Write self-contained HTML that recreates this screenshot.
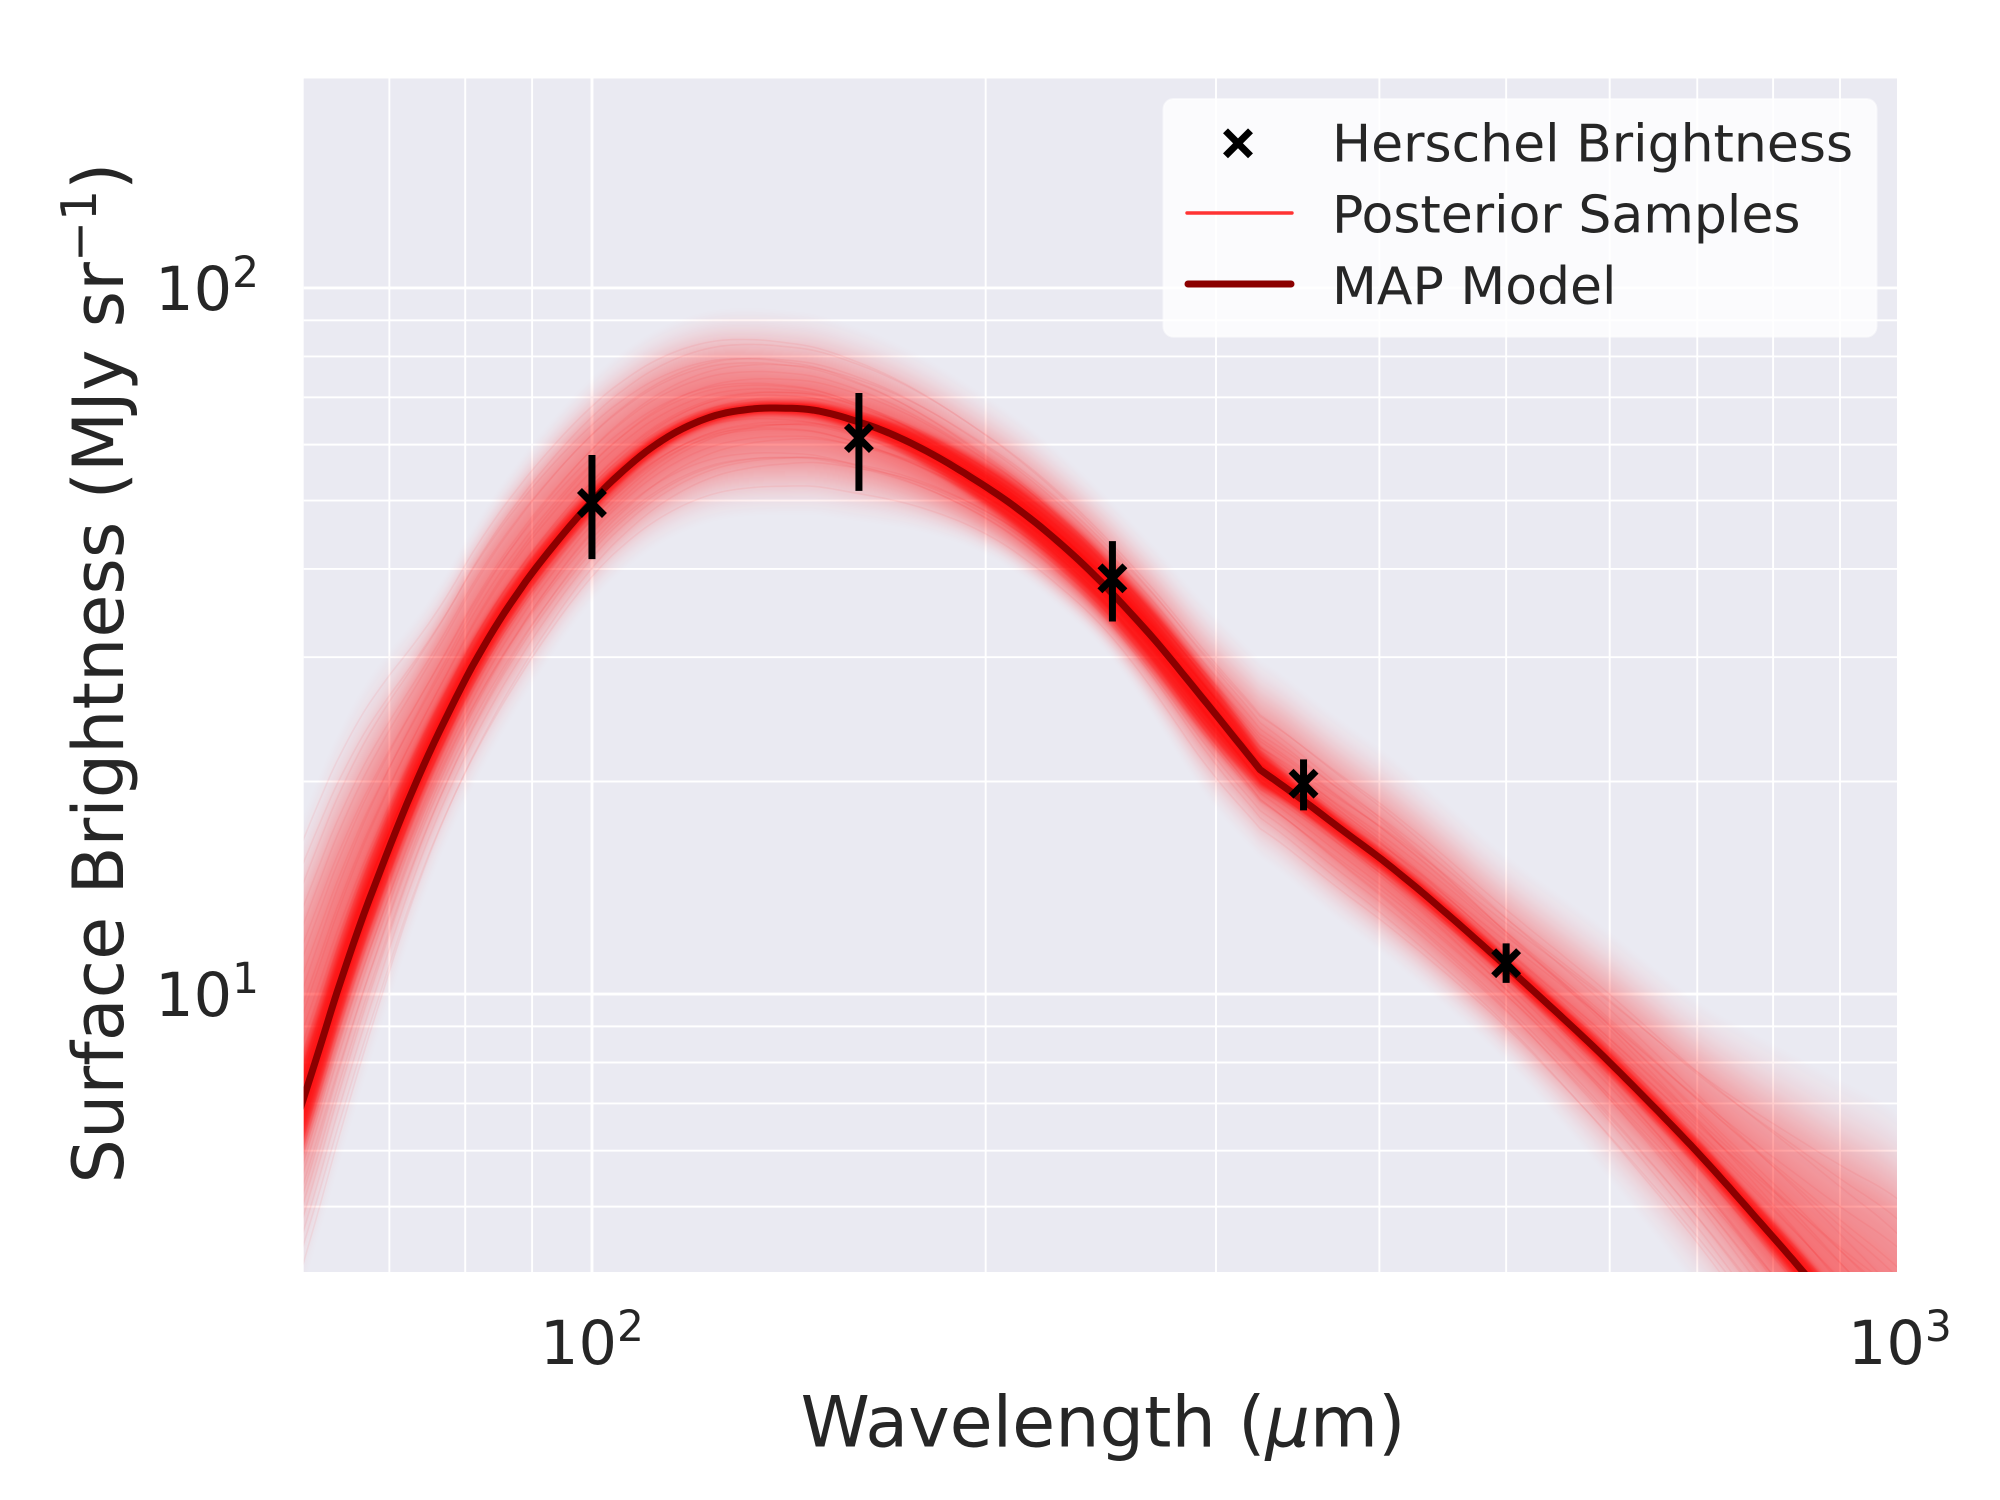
<!DOCTYPE html>
<html lang="en">
<head>
<meta charset="utf-8">
<title>Herschel Brightness Spectrum</title>
<style>
html,body{margin:0;padding:0;background:#fff;width:2000px;height:1500px;overflow:hidden;}
svg{display:block;}
text{font-family:"DejaVu Sans","Liberation Sans",sans-serif;fill:#262626;}
</style>
</head>
<body>
<svg id="chart" xmlns="http://www.w3.org/2000/svg" width="2000" height="1500" viewBox="0 0 2000 1500">
  <defs>
    <clipPath id="plot-clip"><rect x="303.7" y="78.5" width="1593.3" height="1193.5"/></clipPath>
    <filter id="soften" x="-5%" y="-5%" width="110%" height="110%"><feGaussianBlur stdDeviation="2.4"/></filter>
  </defs>
  <rect x="303.7" y="78.5" width="1593.3" height="1193.5" fill="#eaeaf2"/>
  <g id="grid"></g>
  <g clip-path="url(#plot-clip)">
    <g id="band" filter="url(#soften)"></g>
    <g id="sample-lines"></g>
    <path id="map-line" fill="none" stroke="#8b0000" stroke-width="7" stroke-linejoin="round"/>
    <g id="points"></g>
  </g>
  <g id="x-ticks"></g>
  <g id="y-ticks"></g>
  <text x="1103" y="1446.7" font-size="70" text-anchor="middle">Wavelength (<tspan font-style="italic">μ</tspan>m)</text>
  <text transform="translate(122.8,673) rotate(-90)" font-size="70" text-anchor="middle">Surface Brightness (MJy sr<tspan font-size="49" dy="-27">−1</tspan><tspan dy="27">)</tspan></text>
  <g>
    <rect x="1163.5" y="99" width="713" height="237.7" rx="10" ry="10" fill="#ffffff" fill-opacity="0.8" stroke="#ffffff" stroke-opacity="0.5" stroke-width="2"/>
    <g>
      <path d="M1225.5 130.8L1250.5 155.8M1250.5 130.8L1225.5 155.8" stroke="#000" stroke-width="7" fill="none"/>
      <text x="1332" y="161.5" font-size="52">Herschel Brightness</text>
    </g>
    <g>
      <line x1="1187" y1="213" x2="1292" y2="213" stroke="#ff3333" stroke-width="3.4" stroke-linecap="round"/>
      <text x="1332" y="232.5" font-size="52">Posterior Samples</text>
    </g>
    <g>
      <line x1="1188" y1="284" x2="1291" y2="284" stroke="#8b0000" stroke-width="7" stroke-linecap="round"/>
      <text x="1332" y="304" font-size="52">MAP Model</text>
    </g>
  </g>
</svg>
<script>
// ---- Axis limits and ticks ----
const xDomain = [60.2, 995];
const yDomain = [4.04, 198];
const xMajorTicks = [100, 1000];
const xMinorTicks = [70, 80, 90, 200, 300, 400, 500, 600, 700, 800, 900];
const yMajorTicks = [10, 100];
const yMinorTicks = [5, 6, 7, 8, 9, 20, 30, 40, 50, 60, 70, 80, 90];
const xTickBases = ['10', '10'];
const xTickExponents = ['2', '3'];
const yTickBases = ['10', '10'];
const yTickExponents = ['1', '2'];

// ---- Herschel measurements ----
const obsWavelength = [100, 160, 250, 350, 500];
const obsBrightness = [49.6, 61.3, 38.8, 19.86, 11.06];
const obsErrorLow = [41.3, 51.6, 33.7, 18.2, 10.37];
const obsErrorHigh = [58.0, 71.0, 43.8, 21.5, 11.8];

// ---- MAP model curve ----
const mapWavelength = [60.2, 61.99, 63.64, 65.34, 67.07, 68.89, 70.74, 72.63, 74.56, 76.56, 78.61, 80.71, 82.87, 85.08, 87.37, 89.86, 94.74, 100, 104.5, 110.8, 117.5, 124.6, 132.1, 138.5, 148.6, 162.3, 172.1, 182.4, 193.5, 208.8, 224, 243.2, 267.2, 283.3, 300.5, 324.3, 349.9, 376.6, 402.7, 439.7, 500, 550, 600.4, 699.5, 800.5, 841.7, 900.3, 995];
const mapBrightness = [7.13, 8.45, 9.88, 11.44, 13.12, 14.95, 16.95, 19.09, 21.33, 23.68, 26.16, 28.75, 31.35, 33.95, 36.54, 39.33, 44.5, 49.86, 54.1, 59.24, 63.3, 66.06, 67.35, 67.61, 67.02, 64.03, 61.3, 58.05, 54.4, 49.56, 44.73, 38.9, 32.27, 28.34, 24.77, 20.78, 18.79, 16.95, 15.45, 13.51, 10.95, 9.32, 7.99, 5.98, 4.52, 4.06, 3.5, 2.81];
const mapKinkWavelength = 324.3;

// ---- Posterior spread around the MAP curve, in dex, read at these wavelengths ----
const spreadWavelength = [60.2, 68, 75, 87, 100, 120, 138, 160, 200, 250, 300, 325, 350, 400, 500, 700, 800, 900, 1000];
const spreadOuterUp = [0.405, 0.307, 0.2, 0.18, 0.173, 0.15, 0.136, 0.13, 0.125, 0.125, 0.133, 0.158, 0.15, 0.153, 0.152, 0.207, 0.27, 0.33, 0.39];
const spreadMiddleUp = [0.25, 0.17, 0.135, 0.12, 0.105, 0.08, 0.06, 0.055, 0.055, 0.06, 0.057, 0.08, 0.07, 0.068, 0.065, 0.108, 0.15, 0.2, 0.25];
const spreadCoreUp = [0.07, 0.065, 0.05, 0.03, 0.02, 0.012, 0.01, 0.015, 0.035, 0.045, 0.045, 0.03, 0.018, 0.015, 0.018, 0.02, 0.025, 0.03, 0.03];
const spreadCoreDown = [0.07, 0.05, 0.04, 0.025, 0.02, 0.012, 0.01, 0.015, 0.03, 0.045, 0.05, 0.025, 0.02, 0.018, 0.018, 0.02, 0.025, 0.03, 0.03];
const spreadMiddleDown = [0.085, 0.084, 0.078, 0.075, 0.072, 0.075, 0.078, 0.07, 0.055, 0.055, 0.065, 0.045, 0.06, 0.069, 0.075, 0.067, 0.08, 0.09, 0.1];
const spreadOuterDown = [0.26, 0.225, 0.173, 0.16, 0.135, 0.145, 0.15, 0.14, 0.09, 0.085, 0.137, 0.116, 0.127, 0.13, 0.13, 0.19, 0.22, 0.24, 0.27];

// Individual posterior draws: signed fraction of the outer spread at the short and long wavelength ends
const sampleFractionShort = [-0.92, -0.81, -0.74, -0.66, -0.58, -0.53, -0.47, -0.41, -0.36, -0.3, -0.27, -0.22, -0.18, -0.14, -0.11, -0.07, -0.04, 0.03, 0.06, 0.1, 0.13, 0.17, 0.21, 0.26, 0.31, 0.35, 0.4, 0.46, 0.52, 0.57, 0.63, 0.7, 0.78, 0.86, 0.94];
const sampleFractionLong = [0.35, -0.6, 0.12, 0.52, -0.22, 0.7, -0.48, 0.05, 0.31, -0.73, 0.18, 0.44, -0.1, -0.36, 0.62, 0.24, -0.55, 0.08, 0.4, -0.28, -0.66, 0.15, -0.05, -0.42, 0.28, -0.17, 0.56, -0.31, 0.02, -0.52, 0.21, -0.12, 0.33, -0.38, 0.1];

// ---- Axes ----
const SVGNS = 'http://www.w3.org/2000/svg';
const plot = { left: 303.7, top: 78.5, width: 1593.3, height: 1193.5 };
function X(v) {
  const a = Math.log10(xDomain[0]), b = Math.log10(xDomain[1]);
  return plot.left + (Math.log10(v) - a) / (b - a) * plot.width;
}
function Y(v) {
  const a = Math.log10(yDomain[0]), b = Math.log10(yDomain[1]);
  return plot.top + (b - Math.log10(v)) / (b - a) * plot.height;
}
function make(tag, parent) {
  const el = document.createElementNS(SVGNS, tag);
  parent.appendChild(el);
  return el;
}

// ---- Grid ----
const gridGroup = document.getElementById('grid');
function drawVertical(v, width) {
  const px = X(v);
  if (px > plot.left + plot.width) return;
  const el = make('line', gridGroup);
  
  
  el.setAttribute('x1', px); el.setAttribute('x2', px);
  el.setAttribute('y1', plot.top); el.setAttribute('y2', plot.top + plot.height);
  el.setAttribute('stroke', '#fff'); el.setAttribute('stroke-width', width);
}
function drawHorizontal(v, width) {
  const py = Y(v);
  const el = make('line', gridGroup);
  
  
  el.setAttribute('x1', plot.left); el.setAttribute('x2', plot.left + plot.width);
  el.setAttribute('y1', py); el.setAttribute('y2', py);
  el.setAttribute('stroke', '#fff'); el.setAttribute('stroke-width', width);
}
xMinorTicks.forEach(v => drawVertical(v, 1.9));
yMinorTicks.forEach(v => drawHorizontal(v, 1.9));
xMajorTicks.forEach(v => drawVertical(v, 2.9));
yMajorTicks.forEach(v => drawHorizontal(v, 2.9));

// ---- Tick labels ----
const xTickGroup = document.getElementById('x-ticks');
xMajorTicks.forEach((v, i) => {
  const t = make('text', xTickGroup);
  
  
  t.setAttribute('x', X(v)); t.setAttribute('y', 1364);
  t.setAttribute('font-size', '60.5'); t.setAttribute('text-anchor', 'middle');
  t.textContent = xTickBases[i];
  const s = make('tspan', t);
  s.setAttribute('font-size', '42.3'); s.setAttribute('dy', '-23');
  s.textContent = xTickExponents[i];
});
const yTickGroup = document.getElementById('y-ticks');
yMajorTicks.forEach((v, i) => {
  const t = make('text', yTickGroup);
  
  
  t.setAttribute('x', 259); t.setAttribute('y', Y(v) + 22);
  t.setAttribute('font-size', '60.5'); t.setAttribute('text-anchor', 'end');
  t.textContent = yTickBases[i];
  const s = make('tspan', t);
  s.setAttribute('font-size', '42.3'); s.setAttribute('dy', '-23');
  s.textContent = yTickExponents[i];
});

// ---- Curve evaluation (read points joined by a smooth Hermite spline, with a sharp kink) ----
const mapLogX = mapWavelength.map(Math.log10);
const mapLogY = mapBrightness.map(Math.log10);
const kinkIndex = mapWavelength.indexOf(mapKinkWavelength);
function slopeBetween(i, j) { return (mapLogY[j] - mapLogY[i]) / (mapLogX[j] - mapLogX[i]); }
function tangentAt(i, side) {
  if (i === 0) return slopeBetween(0, 1);
  if (i === mapLogX.length - 1) return slopeBetween(i - 1, i);
  if (i === kinkIndex) return side < 0 ? slopeBetween(i - 1, i) : slopeBetween(i, i + 1);
  return slopeBetween(i - 1, i + 1);
}
function mapLogAt(lx) {
  let i = 0;
  while (i < mapLogX.length - 2 && lx > mapLogX[i + 1]) i++;
  const h = mapLogX[i + 1] - mapLogX[i], t = (lx - mapLogX[i]) / h;
  const m0 = tangentAt(i, 1) * h, m1 = tangentAt(i + 1, -1) * h;
  const t2 = t * t, t3 = t2 * t;
  return (2 * t3 - 3 * t2 + 1) * mapLogY[i] + (t3 - 2 * t2 + t) * m0 + (-2 * t3 + 3 * t2) * mapLogY[i + 1] + (t3 - t2) * m1;
}
const spreadLogX = spreadWavelength.map(Math.log10);
function spreadRaw(arr, lx) {
  let i = 0;
  while (i < spreadLogX.length - 2 && lx > spreadLogX[i + 1]) i++;
  const t = Math.min(1, Math.max(0, (lx - spreadLogX[i]) / (spreadLogX[i + 1] - spreadLogX[i])));
  return arr[i] + (arr[i + 1] - arr[i]) * t;
}
// Moving average over a small window so the envelope has no corners
function spreadAt(arr, lx) {
  let s = 0;
  for (let k = -3; k <= 3; k++) s += spreadRaw(arr, lx + k * 0.007);
  return s / 7;
}

// Fine evaluation grid along the axis, running slightly past both plot edges
const fineLogX = [];
const logA = Math.log10(xDomain[0]) - 0.012, logB = Math.log10(xDomain[1]) + 0.012;
for (let i = 0; i <= 300; i++) fineLogX.push(logA + (logB - logA) * i / 300);
fineLogX.push(mapLogX[kinkIndex]);
fineLogX.sort((a, b) => a - b);
const fineMap = fineLogX.map(mapLogAt);
function precompute(arr) { return fineLogX.map(lx => spreadAt(arr, lx)); }
const fineOuterUp = precompute(spreadOuterUp);
const fineMiddleUp = precompute(spreadMiddleUp);
const fineCoreUp = precompute(spreadCoreUp);
const fineCoreDown = precompute(spreadCoreDown);
const fineMiddleDown = precompute(spreadMiddleDown);
const fineOuterDown = precompute(spreadOuterDown);

// Vertical positions are held just outside the plot so off-plot geometry stays inside the page
const yLimitTop = plot.top - 30;
const yLimitBottom = plot.top + plot.height + 30;
function pointAt(i, offset) {
  const py = Math.min(yLimitBottom, Math.max(yLimitTop, Y(Math.pow(10, fineMap[i] + offset))));
  return X(Math.pow(10, fineLogX[i])).toFixed(1) + ' ' + py.toFixed(1);
}
function toPath(offsetFn) {
  return fineLogX.map((lx, i) => (i ? 'L' : 'M') + pointAt(i, offsetFn(i))).join('');
}
function bandPath(upFn, downFn) {
  let d = toPath(upFn);
  for (let i = fineLogX.length - 1; i >= 0; i--) d += 'L' + pointAt(i, -downFn(i));
  return d + 'Z';
}

// ---- Posterior band: stacked translucent layers between the read spread levels ----
const bandGroup = document.getElementById('band');
function addLayer(innerUp, outerUp, innerDown, outerDown, t, alpha) {
  const p = make('path', bandGroup);
  
  
  p.setAttribute('fill', '#ff0000');
  p.setAttribute('fill-opacity', alpha);
  p.setAttribute('d', bandPath(
    i => { const a = innerUp ? innerUp[i] : 0; return a + (outerUp[i] - a) * t; },
    i => { const a = innerDown ? innerDown[i] : 0; return a + (outerDown[i] - a) * t; }
  ));
}
for (let k = 20; k >= 1; k--) addLayer(fineMiddleUp, fineOuterUp, fineMiddleDown, fineOuterDown, k / 20, 0.01 + 0.024 * (1 - k / 20));
for (let k = 12; k >= 1; k--) addLayer(fineCoreUp, fineMiddleUp, fineCoreDown, fineMiddleDown, k / 12, 0.036);
for (let k = 8; k >= 1; k--) addLayer(null, fineCoreUp, null, fineCoreDown, Math.sqrt(k / 8), 0.2);

// ---- Individual faint sample lines ----
const sampleGroup = document.getElementById('sample-lines');
sampleFractionShort.forEach((fShort, n) => {
  const fLong = sampleFractionLong[n];
  const p = make('path', sampleGroup);
  
  
  p.setAttribute('fill', 'none');
  p.setAttribute('stroke', '#ff0000');
  p.setAttribute('stroke-opacity', '0.06');
  p.setAttribute('stroke-width', '1.6');
  p.setAttribute('d', toPath(i => {
    const f = fShort + (fLong - fShort) * i / (fineLogX.length - 1);
    return f > 0 ? f * fineOuterUp[i] : f * fineOuterDown[i];
  }));
});

// ---- MAP line ----
document.getElementById('map-line').setAttribute('d', toPath(() => 0));

// ---- Data points with error bars ----
const pointGroup = document.getElementById('points');
const armHalf = 12.5;
obsWavelength.forEach((w, i) => {
  const px = X(w), py = Y(obsBrightness[i]);
  const bar = make('line', pointGroup);
  
  
  bar.setAttribute('x1', px); bar.setAttribute('x2', px);
  bar.setAttribute('y1', Y(obsErrorLow[i])); bar.setAttribute('y2', Y(obsErrorHigh[i]));
  bar.setAttribute('stroke', '#000'); bar.setAttribute('stroke-width', 7);
  const mark = make('path', pointGroup);
  
  
  mark.setAttribute('d', 'M' + (px - armHalf) + ' ' + (py - armHalf) + 'L' + (px + armHalf) + ' ' + (py + armHalf) + 'M' + (px + armHalf) + ' ' + (py - armHalf) + 'L' + (px - armHalf) + ' ' + (py + armHalf));
  mark.setAttribute('stroke', '#000'); mark.setAttribute('stroke-width', 7); mark.setAttribute('fill', 'none');
});
</script>
</body>
</html>
